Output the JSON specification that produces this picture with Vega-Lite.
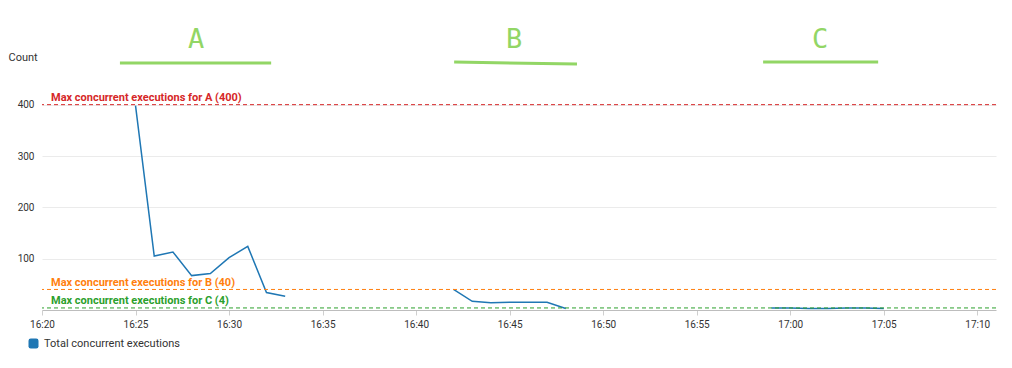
{
  "$schema": "https://vega.github.io/schema/vega-lite/v6.json",
  "width": 954,
  "height": 231,
  "autosize": {"type": "none"},
  "padding": {"left": 42, "top": 79, "right": 16, "bottom": 58},
  "background": "white",
  "config": {"view": {"stroke": null}, "font": "Roboto"},
  "datasets": {
    "series": [
      {"t": "2024-01-01T16:25:00", "v": 398, "seg": "A", "s": "Total concurrent executions"},
      {"t": "2024-01-01T16:26:00", "v": 105, "seg": "A", "s": "Total concurrent executions"},
      {"t": "2024-01-01T16:27:00", "v": 113, "seg": "A", "s": "Total concurrent executions"},
      {"t": "2024-01-01T16:28:00", "v": 67, "seg": "A", "s": "Total concurrent executions"},
      {"t": "2024-01-01T16:29:00", "v": 71, "seg": "A", "s": "Total concurrent executions"},
      {"t": "2024-01-01T16:30:00", "v": 102, "seg": "A", "s": "Total concurrent executions"},
      {"t": "2024-01-01T16:31:00", "v": 124, "seg": "A", "s": "Total concurrent executions"},
      {"t": "2024-01-01T16:32:00", "v": 34, "seg": "A", "s": "Total concurrent executions"},
      {"t": "2024-01-01T16:33:00", "v": 27, "seg": "A", "s": "Total concurrent executions"},
      {"t": "2024-01-01T16:42:00", "v": 40, "seg": "B", "s": "Total concurrent executions"},
      {"t": "2024-01-01T16:43:00", "v": 17, "seg": "B", "s": "Total concurrent executions"},
      {"t": "2024-01-01T16:44:00", "v": 14, "seg": "B", "s": "Total concurrent executions"},
      {"t": "2024-01-01T16:45:00", "v": 15, "seg": "B", "s": "Total concurrent executions"},
      {"t": "2024-01-01T16:46:00", "v": 15, "seg": "B", "s": "Total concurrent executions"},
      {"t": "2024-01-01T16:47:00", "v": 15, "seg": "B", "s": "Total concurrent executions"},
      {"t": "2024-01-01T16:48:00", "v": 3, "seg": "B", "s": "Total concurrent executions"},
      {"t": "2024-01-01T16:59:00", "v": 4, "seg": "C", "s": "Total concurrent executions"},
      {"t": "2024-01-01T17:00:00", "v": 4, "seg": "C", "s": "Total concurrent executions"},
      {"t": "2024-01-01T17:01:00", "v": 3, "seg": "C", "s": "Total concurrent executions"},
      {"t": "2024-01-01T17:02:00", "v": 3, "seg": "C", "s": "Total concurrent executions"},
      {"t": "2024-01-01T17:03:00", "v": 4, "seg": "C", "s": "Total concurrent executions"},
      {"t": "2024-01-01T17:04:00", "v": 4, "seg": "C", "s": "Total concurrent executions"},
      {"t": "2024-01-01T17:05:00", "v": 3, "seg": "C", "s": "Total concurrent executions"}
    ],
    "limits": [
      {"fn": "A", "value": 400, "label": "Max concurrent executions for A (400)", "t": "2024-01-01T16:20:00"},
      {"fn": "B", "value": 40, "label": "Max concurrent executions for B (40)", "t": "2024-01-01T16:20:00"},
      {"fn": "C", "value": 4, "label": "Max concurrent executions for C (4)", "t": "2024-01-01T16:20:00"}
    ],
    "groups": [
      {"name": "A", "tc": "2024-01-01T16:28:14", "ty": 510, "t1": "2024-01-01T16:24:10", "t2": "2024-01-01T16:32:15", "y1": 481, "y2": 481},
      {"name": "B", "tc": "2024-01-01T16:45:14", "ty": 510, "t1": "2024-01-01T16:42:02", "t2": "2024-01-01T16:48:36", "y1": 483, "y2": 479},
      {"name": "C", "tc": "2024-01-01T17:01:36", "ty": 510, "t1": "2024-01-01T16:58:33", "t2": "2024-01-01T17:04:42", "y1": 483, "y2": 483}
    ]
  },
  "layer": [
    {
      "data": {"name": "series"},
      "mark": {"type": "line", "strokeWidth": 1.5},
      "encoding": {
        "x": {
          "field": "t", "type": "temporal",
          "scale": {"domain": [
            {"year": 2024, "month": 1, "date": 1, "hours": 16, "minutes": 20},
            {"year": 2024, "month": 1, "date": 1, "hours": 17, "minutes": 11}
          ]},
          "axis": {
            "title": null, "format": "%H:%M",
            "values": [
              {"year": 2024, "month": 1, "date": 1, "hours": 16, "minutes": 20},
              {"year": 2024, "month": 1, "date": 1, "hours": 16, "minutes": 25},
              {"year": 2024, "month": 1, "date": 1, "hours": 16, "minutes": 30},
              {"year": 2024, "month": 1, "date": 1, "hours": 16, "minutes": 35},
              {"year": 2024, "month": 1, "date": 1, "hours": 16, "minutes": 40},
              {"year": 2024, "month": 1, "date": 1, "hours": 16, "minutes": 45},
              {"year": 2024, "month": 1, "date": 1, "hours": 16, "minutes": 50},
              {"year": 2024, "month": 1, "date": 1, "hours": 16, "minutes": 55},
              {"year": 2024, "month": 1, "date": 1, "hours": 17, "minutes": 0},
              {"year": 2024, "month": 1, "date": 1, "hours": 17, "minutes": 5},
              {"year": 2024, "month": 1, "date": 1, "hours": 17, "minutes": 10}
            ],
            "grid": false, "domainColor": "#bdbdbd", "tickColor": "#cfcfcf", "tickSize": 5,
            "labelFontSize": 10, "labelColor": "#333333", "labelPadding": 4, "labelFlush": false
          }
        },
        "y": {
          "field": "v", "type": "quantitative",
          "scale": {"domain": [0, 450], "nice": false},
          "axis": {
            "values": [100, 200, 300, 400], "grid": true, "gridColor": "#ebebeb",
            "domain": false, "ticks": false, "labelPadding": 8, "labelFontSize": 10, "labelColor": "#333333",
            "title": "Count", "titleAngle": 0, "titleAlign": "left", "titleBaseline": "middle",
            "titleX": -34, "titleY": -22, "titleFontWeight": "normal", "titleFontSize": 11, "titleColor": "#333333"
          }
        },
        "detail": {"field": "seg"},
        "color": {
          "field": "s", "type": "nominal",
          "scale": {"range": ["#1f77b4"]},
          "legend": {
            "title": null, "orient": "none", "legendX": -14, "legendY": 259, "direction": "horizontal",
            "symbolType": "M -0.55 -1 L 0.55 -1 Q 1 -1 1 -0.55 L 1 0.55 Q 1 1 0.55 1 L -0.55 1 Q -1 1 -1 0.55 L -1 -0.55 Q -1 -1 -0.55 -1 Z",
            "symbolSize": 100, "symbolStrokeWidth": 0, "symbolOpacity": 1, "symbolFillColor": "#1f77b4",
            "labelFontSize": 11, "labelColor": "#333333", "labelOffset": 5
          }
        }
      }
    },
    {
      "data": {"name": "limits"},
      "layer": [
        {
          "mark": {"type": "rule", "strokeDash": [4, 3], "strokeWidth": 1},
          "encoding": {
            "y": {"field": "value", "type": "quantitative"},
            "color": {"field": "fn", "type": "nominal", "scale": {"domain": ["A", "B", "C"], "range": ["#d62728", "#ff7f0e", "#2ca02c"]}, "legend": null}
          }
        },
        {
          "mark": {"type": "text", "align": "left", "baseline": "middle", "dx": 9, "dy": -6.5, "fontWeight": "bold", "fontSize": 11},
          "encoding": {
            "x": {"field": "t", "type": "temporal"},
            "y": {"field": "value", "type": "quantitative"},
            "text": {"field": "label"},
            "color": {"field": "fn", "type": "nominal", "scale": {"domain": ["A", "B", "C"], "range": ["#d62728", "#ff7f0e", "#2ca02c"]}, "legend": null}
          }
        }
      ]
    },
    {
      "data": {"name": "groups"},
      "layer": [
        {
          "mark": {"type": "text", "align": "center", "baseline": "alphabetic", "fontSize": 27, "font": "DejaVu Sans Mono", "color": "#92d665"},
          "encoding": {
            "x": {"field": "tc", "type": "temporal"},
            "y": {"field": "ty", "type": "quantitative"},
            "text": {"field": "name"}
          }
        },
        {
          "mark": {"type": "rule", "strokeWidth": 3, "color": "#92d665"},
          "encoding": {
            "x": {"field": "t1", "type": "temporal"},
            "x2": {"field": "t2"},
            "y": {"field": "y1", "type": "quantitative"},
            "y2": {"field": "y2"}
          }
        }
      ]
    }
  ],
  "resolve": {"scale": {"color": "independent"}}
}
